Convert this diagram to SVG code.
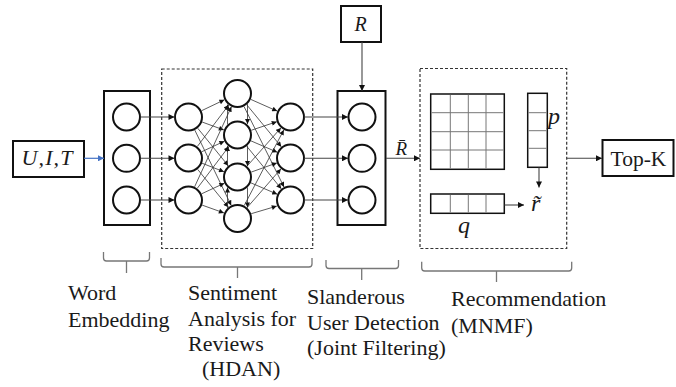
<svg xmlns="http://www.w3.org/2000/svg" width="676" height="387" viewBox="0 0 676 387">
<defs>
<marker id="ah" viewBox="0 0 10 10" refX="10" refY="5" markerWidth="6" markerHeight="5" markerUnits="userSpaceOnUse" orient="auto"><path d="M0,0 L10,5 L0,10 z" fill="#111"/></marker>
<marker id="ahb" viewBox="0 0 10 10" refX="10" refY="5" markerWidth="7" markerHeight="6" markerUnits="userSpaceOnUse" orient="auto"><path d="M0,0 L10,5 L0,10 z" fill="#4472C4"/></marker>
<marker id="ahL" viewBox="0 0 10 10" refX="10" refY="5" markerWidth="7" markerHeight="6" markerUnits="userSpaceOnUse" orient="auto"><path d="M0,0 L10,5 L0,10 z" fill="#111"/></marker>
</defs>
<style>
.box{fill:#fff;stroke:#111;stroke-width:2}
.dash{fill:none;stroke:#333;stroke-width:1.2;stroke-dasharray:3 2}
.c{fill:#fff;stroke:#111;stroke-width:2}
.net{stroke:#333;stroke-width:0.8;fill:none;marker-end:url(#ah)}
.con{stroke:#444;stroke-width:1.1;fill:none;marker-end:url(#ahL)}
.grid{fill:#fff;stroke:#111;stroke-width:1.5}
.gl{stroke:#777;stroke-width:1}
.br{fill:none;stroke:#777;stroke-width:1.3}
.lbl{font-family:"Liberation Serif","Times New Roman",serif;font-size:22px;fill:#1a1a1a}
.math{font-family:"Liberation Serif","Times New Roman",serif;font-style:italic;font-size:24px;fill:#1a1a1a}
</style>
<g id="n-uit"><rect class="box" x="13" y="141" width="71" height="36"/><text class="math" x="21.5" y="165" textLength="51" style="font-size:22px">U,I,T</text></g>
<g id="n-embed"><rect class="box" x="104" y="91" width="46" height="134"/><circle class="c" cx="126.5" cy="117" r="13.5"/><circle class="c" cx="126.5" cy="158.3" r="13.5"/><circle class="c" cx="126.5" cy="200" r="13.5"/></g>
<g id="n-hdan"><rect class="dash" x="161.7" y="69" width="151" height="179.5"/>
<circle class="c" cx="188.5" cy="117" r="13.5"/><circle class="c" cx="188.5" cy="158" r="13.5"/><circle class="c" cx="188.5" cy="200" r="13.5"/>
<circle class="c" cx="237.5" cy="93.5" r="13.5"/><circle class="c" cx="237.5" cy="135" r="13.5"/><circle class="c" cx="237.5" cy="177" r="13.5"/><circle class="c" cx="237.5" cy="218.5" r="13.5"/>
<circle class="c" cx="290.5" cy="117" r="13.5"/><circle class="c" cx="290.5" cy="158" r="13.5"/><circle class="c" cx="290.5" cy="200" r="13.5"/></g>
<g id="n-R"><rect class="box" x="341" y="6" width="40" height="36"/><text class="math" x="354.5" y="31" style="font-size:20px">R</text></g>
<g id="n-joint"><rect class="box" x="337.5" y="91" width="48" height="134"/><circle class="c" cx="362" cy="117" r="13.5"/><circle class="c" cx="362" cy="158.3" r="13.5"/><circle class="c" cx="362" cy="200" r="13.5"/></g>
<g id="n-mnmf"><rect class="dash" x="420" y="68.5" width="146.7" height="180"/>
<rect class="grid" x="430.7" y="94" width="73.6" height="75.3"/>
<path class="gl" d="M450.3,94.8V168.5M468.3,94.8V168.5M486,94.8V168.5M431.5,112.7H503.5M431.5,131.7H503.5M431.5,150H503.5"/>
<rect class="grid" x="527.7" y="93.3" width="19.6" height="74"/>
<path class="gl" d="M528.5,112.7H546.5M528.5,130.7H546.5M528.5,148.3H546.5"/>
<text class="math" x="548" y="124">p</text>
<rect class="grid" x="430.7" y="194" width="73.6" height="19.3"/>
<path class="gl" d="M450.3,194.8V212.5M468.3,194.8V212.5M486,194.8V212.5"/>
<text class="math" x="458" y="233">q</text>
<text class="math" x="531" y="211">r&#x0303;</text>
</g>
<g id="n-topk"><rect class="box" x="602.5" y="140" width="71" height="36"/><text class="lbl" x="610.5" y="166" style="font-size:21.5px">Top-K</text></g>
<g id="connectors">
<line x1="84" y1="158.3" x2="104" y2="158.3" stroke="#4472C4" stroke-width="1.2" marker-end="url(#ahb)"/>
<line class="con" x1="140.5" y1="117" x2="174.5" y2="117"/>
<line class="con" x1="140.5" y1="158.3" x2="174.5" y2="158.3"/>
<line class="con" x1="140.5" y1="200" x2="174.5" y2="200"/>
<line class="net" x1="201.6" y1="110.7" x2="224.4" y2="99.8"/>
<line class="net" x1="202.1" y1="122.0" x2="223.9" y2="130.0"/>
<line class="net" x1="197.7" y1="128.2" x2="228.3" y2="165.8"/>
<line class="net" x1="194.8" y1="130.1" x2="231.2" y2="205.4"/>
<line class="net" x1="197.3" y1="146.5" x2="228.7" y2="105.0"/>
<line class="net" x1="201.6" y1="151.8" x2="224.4" y2="141.2"/>
<line class="net" x1="202.0" y1="163.2" x2="224.0" y2="171.8"/>
<line class="net" x1="197.6" y1="169.3" x2="228.4" y2="207.2"/>
<line class="net" x1="194.6" y1="186.8" x2="231.4" y2="106.7"/>
<line class="net" x1="197.2" y1="188.4" x2="228.8" y2="146.6"/>
<line class="net" x1="201.6" y1="193.8" x2="224.4" y2="183.2"/>
<line class="net" x1="202.1" y1="205.1" x2="223.9" y2="212.9"/>
<line class="net" x1="250.8" y1="99.4" x2="277.2" y2="111.1"/>
<line class="net" x1="246.7" y1="104.7" x2="281.3" y2="146.8"/>
<line class="net" x1="244.0" y1="106.5" x2="284.0" y2="187.0"/>
<line class="net" x1="251.2" y1="130.3" x2="276.8" y2="121.7"/>
<line class="net" x1="250.8" y1="140.8" x2="277.2" y2="152.2"/>
<line class="net" x1="246.7" y1="146.2" x2="281.3" y2="188.8"/>
<line class="net" x1="247.1" y1="166.1" x2="280.9" y2="127.9"/>
<line class="net" x1="251.2" y1="172.1" x2="276.9" y2="162.9"/>
<line class="net" x1="250.8" y1="182.8" x2="277.2" y2="194.2"/>
<line class="net" x1="244.2" y1="205.6" x2="283.8" y2="129.9"/>
<line class="net" x1="247.1" y1="207.6" x2="280.9" y2="168.9"/>
<line class="net" x1="251.2" y1="213.7" x2="276.8" y2="206.1"/>
<line class="net" x1="227.5" y1="124.5" x2="227.5" y2="104.5"/>
<line class="net" x1="227.5" y1="166.5" x2="227.5" y2="146"/>
<line class="net" x1="227.5" y1="208" x2="227.5" y2="187.5"/>
<line class="net" x1="247.5" y1="104" x2="247.5" y2="124"/>
<line class="net" x1="247.5" y1="145.5" x2="247.5" y2="166"/>
<line class="net" x1="247.5" y1="187.5" x2="247.5" y2="207.5"/>
<line class="con" x1="304" y1="117" x2="348" y2="117"/>
<line class="con" x1="304" y1="158.3" x2="348" y2="158.3"/>
<line class="con" x1="304" y1="200" x2="348" y2="200"/>
<line class="con" x1="362" y1="42" x2="362" y2="91"/>
<line class="con" x1="386" y1="158.3" x2="420" y2="158.3"/>
<line class="con" x1="539" y1="167.5" x2="539" y2="187.5"/>
<line class="con" x1="504.5" y1="205" x2="524" y2="205"/>
<line class="con" x1="567" y1="158.3" x2="602" y2="158.3"/>
</g>
<g id="lbl-rbar"><text class="math" x="395.5" y="155" style="font-size:19px">R&#x0304;</text></g>
<g id="brackets">
<path class="br" d="M103.5,252V258Q103.5,261 106.5,261H146.5Q149.5,261 149.5,258V252M126.5,261V273"/>
<path class="br" d="M161,258V264Q161,267 164,267H309Q312,267 312,264V258M237.5,267V278"/>
<path class="br" d="M326,260V265.5Q326,268.5 329,268.5H395.5Q398.5,268.5 398.5,265.5V260M361.7,268.5V280"/>
<path class="br" d="M421.7,261.7V268Q421.7,271 424.7,271H568.7Q571.7,271 571.7,268V261.7M496.5,271V282"/>
</g>
<g id="labels">
<text class="lbl" x="68" y="300">Word</text>
<text class="lbl" x="68" y="327">Embedding</text>
<text class="lbl" x="188" y="300">Sentiment</text>
<text class="lbl" x="188" y="326">Analysis for</text>
<text class="lbl" x="188" y="351">Reviews</text>
<text class="lbl" x="202" y="376">(HDAN)</text>
<text class="lbl" x="307" y="304">Slanderous</text>
<text class="lbl" x="307" y="330">User Detection</text>
<text class="lbl" x="307" y="355">(Joint Filtering)</text>
<text class="lbl" x="451" y="306">Recommendation</text>
<text class="lbl" x="451" y="333">(MNMF)</text>
</g>
</svg>
